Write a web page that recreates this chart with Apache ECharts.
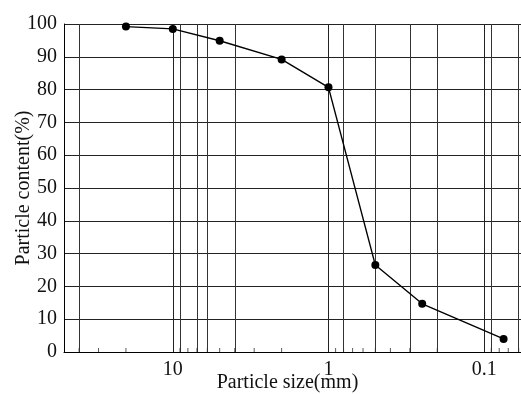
<!DOCTYPE html>
<html>
<head>
<meta charset="utf-8">
<script src="https://cdn.jsdelivr.net/npm/echarts@6/dist/echarts.min.js"></script>
<style>html,body{margin:0;padding:0;background:#fff}#c{width:521px;height:394px}</style>
</head>
<body>
<div id="c"></div>
<script>
// Data
var particleSize = [20, 10, 5, 2, 1, 0.5, 0.25, 0.075];
var particleContent = [99.2, 98.5, 94.9, 89.2, 80.7, 26.5, 14.7, 4.0];
var gridSizes = [40, 9, 7, 6, 4, 0.8, 0.5, 0.3, 0.2, 0.09, 0.06];
var minorTickSizes = [40, 30, 20, 9, 8, 7, 6, 5, 4, 3, 2, 0.9, 0.8, 0.7, 0.6, 0.5, 0.4, 0.3, 0.2, 0.09, 0.08, 0.07, 0.06];
var xMin = 0.05, xMax = 50;
var yTicks = [0, 10, 20, 30, 40, 50, 60, 70, 80, 90, 100];

var font = '"Liberation Serif", "DejaVu Serif", serif';
var chart = echarts.init(document.getElementById('c'), null, {renderer: 'canvas'});
chart.setOption({
  animation: false,
  backgroundColor: '#fff',
  grid: {left: 64, right: -10, top: 24, bottom: 42, containLabel: false, outerBoundsMode: 'none'},
  xAxis: {
    type: 'log', logBase: 10, inverse: true, min: xMin, max: xMax,
    name: 'Particle size(mm)', nameLocation: 'middle', nameGap: 21, nameMoveOverlap: false,
    nameTextStyle: {fontFamily: font, fontSize: 20, color: '#111', padding: [0, 20, 0, 0]},
    axisLine: {show: true, lineStyle: {color: '#000', width: 1}},
    axisTick: {show: false},
    axisLabel: {fontFamily: font, fontSize: 20, color: '#111', margin: 8, showMinLabel: false, showMaxLabel: false},
    splitLine: {show: true, lineStyle: {color: '#222', width: 1}}
  },
  yAxis: {
    type: 'value', min: yTicks[0], max: yTicks[yTicks.length - 1], interval: 10,
    name: 'Particle content(%)', nameLocation: 'middle', nameGap: 30, nameRotate: 90, nameMoveOverlap: false,
    nameTextStyle: {fontFamily: font, fontSize: 20, color: '#111'},
    axisLine: {show: true, lineStyle: {color: '#000', width: 1}},
    axisTick: {show: false},
    axisLabel: {fontFamily: font, fontSize: 20, color: '#111', margin: 7},
    splitLine: {show: true, lineStyle: {color: '#222', width: 1}}
  },
  series: [
    {
      type: 'scatter', silent: true,
      data: minorTickSizes.map(function (v) { return [v, 0]; }),
      symbol: 'rect', symbolSize: [1, 4], symbolOffset: [0, -2],
      itemStyle: {color: '#333'}, z: 1
    },
    {
      type: 'line', data: particleSize.map(function (v, i) { return [v, particleContent[i]]; }),
      symbol: 'circle', symbolSize: 8, showSymbol: true,
      lineStyle: {color: '#000', width: 1.4},
      itemStyle: {color: '#000'}, z: 5,
      markLine: {
        silent: true, symbol: 'none', animation: false,
        label: {show: false},
        lineStyle: {color: '#333', width: 1, type: 'solid'},
        data: gridSizes.map(function (v) { return {xAxis: v}; }),
        z: 1
      }
    }
  ]
});
</script>
</body>
</html>
